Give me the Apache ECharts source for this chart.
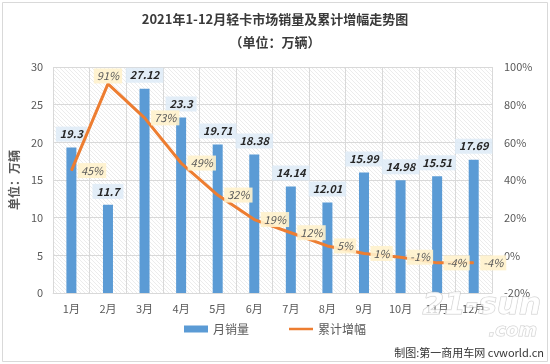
<!DOCTYPE html>
<html><head><meta charset="utf-8">
<script src="https://cdn.jsdelivr.net/npm/echarts@6/dist/echarts.min.js"></script>
<style>html,body{margin:0;padding:0;background:#fff}#c{width:550px;height:364px}</style>
</head><body><div id="c"></div>
<script>
var categories = ['1月','2月','3月','4月','5月','6月','7月','8月','9月','10月','11月','12月'];
var monthlySales = [19.3, 11.7, 27.12, 23.3, 19.71, 18.38, 14.14, 12.01, 15.99, 14.98, 15.51, 17.69];
var cumulativeGrowth = [45, 91, 73, 49, 32, 19, 12, 5, 1, -1, -4, -4];
var leftTicks = [0, 30, 5];
var rightTicks = [-20, 100, 20];

var pc = document.createElement('canvas');
pc.width = 4; pc.height = 4;
var g = pc.getContext('2d');
g.fillStyle = '#ffffff'; g.fillRect(0,0,4,4);
g.strokeStyle = '#ececec'; g.lineWidth = 1;
g.beginPath(); g.moveTo(-1,-1); g.lineTo(5,5); g.moveTo(-1,3); g.lineTo(1,5); g.moveTo(3,-1); g.lineTo(5,1); g.stroke();

var chart = echarts.init(document.getElementById('c'), null, {renderer:'canvas'});
var font = '"Microsoft YaHei","Noto Sans CJK SC",sans-serif';
chart.setOption({
  backgroundColor: '#fff',
  animation: false,
  textStyle: {fontFamily: font},
  title: [
    {text: '2021年1-12月轻卡市场销量及累计增幅走势图', left: 'center', top: 8,
     textStyle: {fontSize: 13, fontWeight: 'bold', color: '#3a3a3a', fontFamily: font}},
    {text: '（单位：万辆）', left: 'center', top: 31,
     textStyle: {fontSize: 13, fontWeight: 'bold', color: '#3a3a3a', fontFamily: font}}
  ],
  graphic: [
    {type: 'rect', shape: {x: 2.5, y: 2.5, width: 545, height: 359}, style: {fill: 'none', stroke: '#d9d9d9', lineWidth: 1}, silent: true},
    {type: 'text', left: 422, top: 290, z: 100, style: {text: '21-sun', fontSize: 31, fontWeight: 'bold', fontStyle: 'italic',
      fill: 'rgba(255,255,255,0.75)', stroke: 'rgba(170,170,170,0.6)', lineWidth: 1, fontFamily: 'DejaVu Sans'}},
    {type: 'text', left: 488, top: 322, z: 100, style: {text: '.com', fontSize: 18, fontWeight: 'bold', fontStyle: 'italic',
      fill: 'rgba(255,255,255,0.75)', stroke: 'rgba(170,170,170,0.6)', lineWidth: 1, fontFamily: 'DejaVu Sans'}},
    {type: 'text', right: 6, bottom: 6, z: 101, style: {text: '制图:第一商用车网 cvworld.cn', fontSize: 11, fill: '#333', fontFamily: font}}
  ],
  legend: {
    bottom: 24, left: 'center', itemGap: 40, itemWidth: 24, itemHeight: 7,
    textStyle: {fontSize: 12, color: '#595959'},
    data: [{name: '月销量', icon: 'rect'}, {name: '累计增幅', icon: 'path://M0,0 L24,0 L24,2.5 L0,2.5 Z'}]
  },
  grid: {left: 48, right: 58, top: 67, bottom: 71, show: true, borderWidth: 0,
    backgroundColor: {image: pc, repeat: 'repeat'}},
  xAxis: {
    type: 'category', data: categories,
    axisLine: {lineStyle: {color: '#d9d9d9'}}, axisTick: {show: false},
    axisLabel: {color: '#595959', fontSize: 11, margin: 10},
    splitLine: {show: true, lineStyle: {color: '#d9d9d9'}}
  },
  yAxis: [
    {type: 'value', min: leftTicks[0], max: leftTicks[1], interval: leftTicks[2],
     name: '单位：万辆', nameLocation: 'middle', nameGap: 26, nameRotate: 90,
     nameTextStyle: {fontSize: 12, fontWeight: 'bold', color: '#595959'},
     axisLine: {show: false}, axisTick: {show: false},
     axisLabel: {color: '#595959', fontSize: 11, margin: 10},
     splitLine: {lineStyle: {color: '#d9d9d9'}}},
    {type: 'value', min: rightTicks[0], max: rightTicks[1], interval: rightTicks[2],
     axisLine: {show: false}, axisTick: {show: false},
     axisLabel: {color: '#595959', fontSize: 11, margin: 12, formatter: '{value}%'},
     splitLine: {show: false}}
  ],
  series: [
    {name: '月销量', type: 'bar', data: monthlySales, barWidth: 10,
     itemStyle: {color: '#5B9BD5'},
     label: {show: true, position: 'top', distance: 6, fontSize: 11, fontWeight: 'bold', fontStyle: 'italic',
       color: '#262626', backgroundColor: 'rgba(222,235,247,0.85)', padding: [2, 4]}},
    {name: '累计增幅', type: 'line', yAxisIndex: 1, data: cumulativeGrowth.map(function(v, i){
        return i === 1 ? {value: v, label: {position: 'top', distance: 0}} : v;}),
     symbol: 'circle', symbolSize: 1, lineStyle: {color: '#ED7D31', width: 3},
     itemStyle: {color: '#ED7D31'},
     label: {show: true, position: 'right', distance: 6, fontSize: 11, fontStyle: 'italic', color: '#595959',
       backgroundColor: 'rgba(255,242,204,0.9)', padding: [2, 3], formatter: '{c}%'}}
  ]
});
</script></body></html>
